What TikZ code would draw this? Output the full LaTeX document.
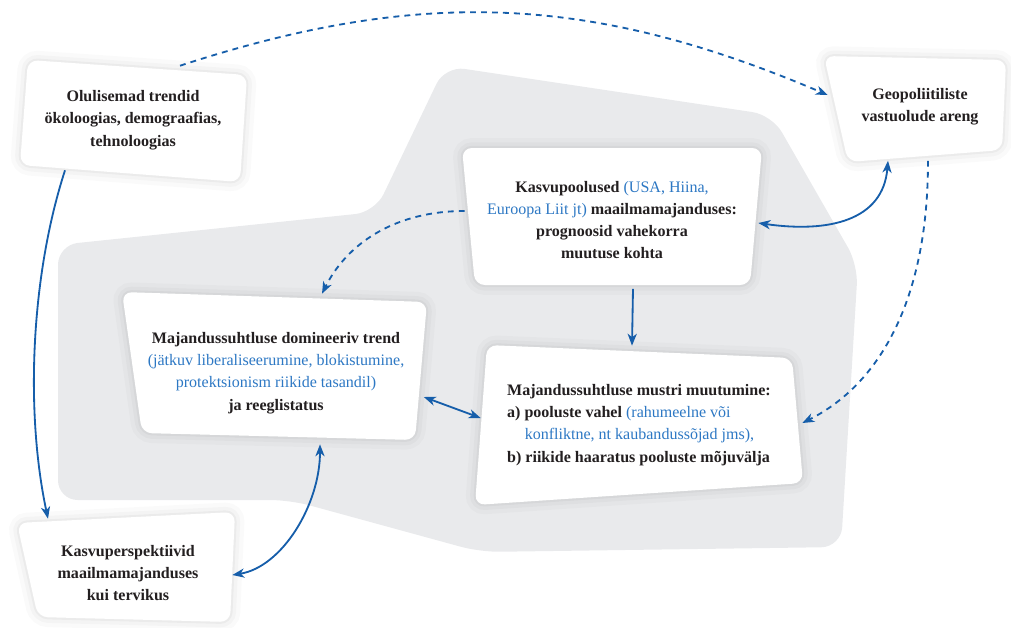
\documentclass[tikz,border=0pt]{standalone}
\usepackage{fontspec}
\setmainfont{Liberation Serif}
\usepackage{xcolor}
\usetikzlibrary{arrows.meta, positioning}

\definecolor{linkblue}{RGB}{22,94,170}
\definecolor{noteblue}{RGB}{45,120,196}
\definecolor{inktext}{RGB}{35,31,32}
\definecolor{blobgray}{RGB}{233,234,236}

\newcommand{\bluenote}[1]{\textcolor{noteblue}{\mdseries #1}}

\tikzset{
  card/.style={fill=white, rounded corners=7pt,
    preaction={draw=black, opacity=0.018, line width=14pt},
    preaction={draw=black, opacity=0.025, line width=8pt},
    preaction={draw=black, opacity=0.035, line width=3pt}},
  cardtext/.style={text=inktext, align=center, inner sep=0pt,
    font=\bfseries\fontsize{11.4}{15.8}\selectfont}
}

\begin{document}
\begin{tikzpicture}[x=0.025cm, y=-0.025cm,
    >={Stealth[length=8.5pt,width=6.5pt,inset=2.5pt]},
    link/.style={draw=linkblue, line width=1.3pt},
    dashlink/.style={link, dash pattern=on 4.2pt off 3.6pt}]

  \useasboundingbox (0,0) rectangle (1011,627);

  % grey backdrop
  \fill[blobgray, rounded corners=14pt] (58,245) -- (375,212) -- (445,66) -- (772,115)
    -- (858,265) -- (841,547) -- (480,552) -- (290,500) -- (58,500) -- cycle;

  % cards
  \path[card] (28,60) -- (247,75) -- (240,182) -- (20,165) -- cycle;
  \path[card] (824,56) -- (1006,60) -- (1002,150) -- (848,162) -- cycle;
  \path[card] (462,148) -- (762,148) -- (750,285) -- (475,285) -- cycle;
  \path[card] (122,292) -- (427,302) -- (415,440) -- (142,433) -- cycle;
  \path[card] (487,345) -- (792,358) -- (803,483) -- (475,505) -- cycle;
  \path[card] (17,523) -- (235,512) -- (230,622) -- (38,617) -- cycle;

  % texts
  \node[cardtext, minimum width=5.7cm, minimum height=3.05cm] (trends) at (133,120)
    {Olulisemad trendid\\ ökoloogias, demograafias,\\ tehnoloogias};
  \node[cardtext, minimum width=4.55cm, minimum height=2.675cm] (geopol) at (920,107)
    {Geopoliitiliste\\ vastuolude areng};
  \node[cardtext, minimum width=7.5cm, minimum height=3.425cm] (poles) at (612,220)
    {Kasvupoolused \bluenote{(USA, Hiina,}\\ \bluenote{Euroopa Liit jt)} maailmamajanduses:\\ prognoosid vahekorra\\ muutuse kohta};
  \node[cardtext, minimum width=7.625cm, minimum height=3.7cm] (domtrend) at (276,373)
    {Majandussuhtluse domineeriv trend\\ \bluenote{(jätkuv liberaliseerumine, blokistumine,}\\ \bluenote{protektsionism riikide tasandil)}\\ ja reeglistatus};
  \node[cardtext, align=left, minimum width=8.2cm, minimum height=4cm] (pattern) at (639,425)
    {Majandussuhtluse mustri muutumine:\\ a) pooluste vahel \bluenote{(rahumeelne või}\\ \hspace*{1.1em}\bluenote{konfliktne, nt kaubandussõjad jms),}\\ b) riikide haaratus pooluste mõjuvälja};
  \node[cardtext, minimum width=5.45cm, minimum height=2.75cm] (outlook) at (128,573)
    {Kasvuperspektiivid\\ maailmamajanduses\\ kui tervikus};

  % connectors
  \draw[dashlink, ->] ([shift={(47,7)}]trends.north) .. controls +(242,-79) and +(-235,-100) .. ([shift={(-1,-12)}]geopol.west);
  \draw[link, ->] ([shift={(-68,-11)}]trends.south) .. controls +(-34,105) and +(-23,-108) .. ([shift={(-80,1)}]outlook.north);
  \draw[link, <->] ([shift={(-4,3)}]poles.east) .. controls +(70,10) and +(-5,60) .. ([shift={(-32,0)}]geopol.south);
  \draw[dashlink, ->] ([shift={(8,0)}]geopol.south) .. controls +(0,150) and +(70,-35) .. ([shift={(-1,-2)}]pattern.east);
  \draw[dashlink, ->] ([shift={(3,-9)}]poles.west) .. controls +(-70,0) and +(25,-50) .. ([shift={(46,-5)}]domtrend.north);
  \draw[link, ->] ([shift={(21,0)}]poles.south) -- ([shift={(-7,1)}]pattern.north);
  \draw[link, <->] ([shift={(-5,24)}]domtrend.east) -- ([shift={(6,-7)}]pattern.west);
  \draw[link, <->] ([shift={(-5,2)}]outlook.east) .. controls +(50,-8) and +(0,60) .. ([shift={(44,-3)}]domtrend.south);
\end{tikzpicture}
\end{document}
